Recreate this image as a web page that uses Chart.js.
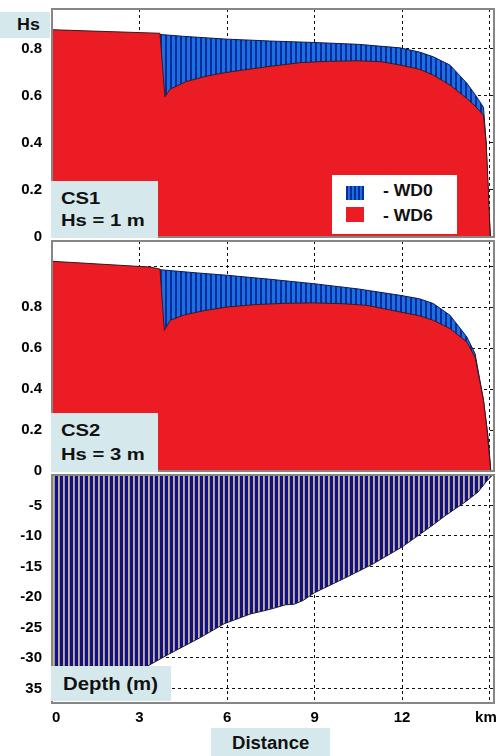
<!DOCTYPE html>
<html>
<head>
<meta charset="utf-8">
<script src="https://cdn.jsdelivr.net/npm/chart.js@4.4.1/dist/chart.umd.min.js"></script>
<style>
  body { margin: 0; background: #fff; }
  #wrap { position: relative; width: 496px; height: 756px; overflow: hidden;
          font-family: "Liberation Sans", Arial, sans-serif; font-weight: bold; color: #111; }
  canvas { position: absolute; left: 0; }
  .tag { position: absolute; background: #d5e9ec; }
  .line { position: absolute; white-space: nowrap; transform-origin: left center; }
  .legend { position: absolute; background: #fff; }
  .sw { position: absolute; }
</style>
</head>
<body>
<div id="wrap">
  <canvas id="c1" width="496" height="250" style="top:0px"></canvas>
  <canvas id="c2" width="496" height="255" style="top:230px"></canvas>
  <canvas id="c3" width="510" height="267" style="top:460px"></canvas>

  <div class="tag" style="left:0;top:12px;width:50px;height:26px">
    <div class="line" style="left:17px;top:2px;height:22px;line-height:22px;font-size:17px;transform:scaleX(1.05)">Hs</div>
  </div>

  <div class="tag" style="left:51px;top:181px;width:107px;height:57px">
    <div class="line" style="left:10px;top:7px;height:22px;line-height:22px;font-size:17px;transform:scaleX(1.19)">CS1</div>
    <div class="line" style="left:10px;top:29px;height:22px;line-height:22px;font-size:17px;transform:scaleX(1.19)">Hs = 1 m</div>
  </div>

  <div class="legend" style="left:332px;top:175px;width:125px;height:59px">
    <div class="sw" style="left:14px;top:11px;width:18px;height:14px;background:repeating-linear-gradient(90deg,#0b2c94 0 2px,#1a6fe6 2px 4px)"></div>
    <div class="sw" style="left:14px;top:32px;width:18px;height:15px;background:#ec1c24"></div>
    <div class="line" style="left:51px;top:5px;height:22px;line-height:22px;font-size:16px;transform:scaleX(1.1)">- WD0</div>
    <div class="line" style="left:51px;top:30px;height:22px;line-height:22px;font-size:16px;transform:scaleX(1.1)">- WD6</div>
  </div>

  <div class="tag" style="left:51px;top:413px;width:107px;height:59px">
    <div class="line" style="left:10px;top:7px;height:22px;line-height:22px;font-size:17px;transform:scaleX(1.19)">CS2</div>
    <div class="line" style="left:10px;top:31px;height:22px;line-height:22px;font-size:17px;transform:scaleX(1.19)">Hs = 3 m</div>
  </div>

  <div class="tag" style="left:51px;top:666px;width:120px;height:35px">
    <div class="line" style="left:12px;top:7px;height:22px;line-height:22px;font-size:18px;transform:scaleX(1.13)">Depth (m)</div>
  </div>

  <div class="tag" style="left:211px;top:728px;width:119px;height:28px">
    <div class="line" style="left:21px;top:4px;height:22px;line-height:22px;font-size:18px;transform:scaleX(1.03)">Distance</div>
  </div>
</div>

<script>
// Axis ticks
const distTicks  = [0, 3, 6, 9, 12, 15];
const distLabels = ['\u00a0\u00a00', '3', '6', '9', '12', 'km\u2002'];
const hsTicks1   = [0, 0.2, 0.4, 0.6, 0.8];
const hsLabels1  = ['0', '0.2', '0.4', '0.6', '0.8'];
const hsTicks2   = [0, 0.2, 0.4, 0.6, 0.8, 1.0];
const hsLabels2  = ['0', '0.2', '0.4', '0.6', '0.8', ''];
const depthTicks  = [0, -5, -10, -15, -20, -25, -30, -35];
const depthLabels = ['', '-5', '-10', '-15', '-20', '-25', '-30', '35'];

// CS1 (Hs = 1 m): wave height along the transect
const cs1Wd0Km = [0, 3.70, 4.5, 6.0, 7.5, 8.95, 10.5, 11.93, 12.6, 13.07, 13.64, 14.22, 14.5, 14.79, 14.88, 14.96, 15.03];
const cs1Wd0Hs = [0.878, 0.860, 0.852, 0.840, 0.832, 0.826, 0.818, 0.803, 0.785, 0.765, 0.730, 0.653, 0.605, 0.551, 0.40, 0.15, 0];
const cs1Wd6Km = [0, 3.70, 3.87, 4.05, 4.6, 5.2, 5.8, 6.5, 7.5, 8.5, 9.5, 10.5, 11.3, 11.93, 12.6, 13.07, 13.64, 14.22, 14.5, 14.79, 14.88, 14.95, 15.02];
const cs1Wd6Hs = [0.880, 0.865, 0.595, 0.628, 0.660, 0.680, 0.695, 0.708, 0.725, 0.740, 0.746, 0.748, 0.744, 0.730, 0.712, 0.687, 0.645, 0.588, 0.556, 0.517, 0.40, 0.22, 0];

// CS2 (Hs = 3 m)
const cs2Wd0Km = [0, 3.70, 5.0, 5.99, 7.5, 8.95, 10.5, 11.93, 12.6, 13.07, 13.64, 14.22, 14.5, 14.79, 14.96, 15.04];
const cs2Wd0Hs = [1.020, 0.982, 0.966, 0.955, 0.935, 0.914, 0.888, 0.857, 0.840, 0.817, 0.760, 0.654, 0.573, 0.345, 0.15, 0];
const cs2Wd6Km = [0, 3.36, 3.70, 3.85, 4.05, 4.5, 5.2, 6.0, 7.0, 8.0, 8.95, 10.0, 10.79, 11.93, 12.6, 13.07, 13.64, 14.22, 14.5, 14.79, 14.9, 15.04];
const cs2Wd6Hs = [1.023, 0.995, 0.985, 0.686, 0.735, 0.760, 0.782, 0.800, 0.812, 0.818, 0.820, 0.816, 0.808, 0.776, 0.757, 0.735, 0.695, 0.629, 0.556, 0.345, 0.215, 0];

// Bed profile
const depthKm = [0, 3.25, 4.0, 5.07, 5.9, 6.8, 7.5, 8.0, 8.3, 8.6, 9.0, 10.0, 11.0, 12.0, 13.0, 13.5, 14.2, 14.6, 14.9, 15.1];
const depthM  = [-31.4, -31.4, -29.4, -26.7, -24.4, -22.8, -22.0, -21.3, -21.2, -20.6, -19.3, -17.0, -14.6, -11.8, -8.4, -6.6, -4.3, -2.8, -1.0, 0];

const pts = (xs, ys) => xs.map((x, i) => ({ x, y: ys[i] }));

function stripes(colors) {
  const c = document.createElement('canvas');
  c.width = colors.length; c.height = 4;
  const g = c.getContext('2d');
  colors.forEach((col, i) => { g.fillStyle = col; g.fillRect(i, 0, 1, 4); });
  return g.createPattern(c, 'repeat');
}
const blueFill  = stripes(['#0b2c94', '#0b2c94', '#1a6fe6', '#1a6fe6', '#1a6fe6']);
const depthFill = stripes(['#10108a', '#10108a', '#10108a', '#cdb47e', '#9d98a2']);
const RED = '#ec1c24';

const frame = {
  id: 'frame',
  afterDraw(chart) {
    const { ctx, chartArea: a } = chart;
    ctx.save();
    ctx.strokeStyle = '#868686';
    ctx.lineWidth = 2;
    ctx.strokeRect(a.left, a.top, a.right - a.left, a.bottom - a.top);
    ctx.restore();
  }
};

Chart.defaults.font.family = '"Liberation Sans", Arial, sans-serif';
Chart.defaults.color = '#000';

const tickFont = { size: 15, weight: 'bold' };
const dashGrid = { color: '#111', lineWidth: 1, drawTicks: false };

function xScale(showLabels) {
  return {
    type: 'linear', min: 0, max: 15.15,
    grid: dashGrid,
    border: { display: false, dash: [3, 3] },
    afterBuildTicks: s => { s.ticks = distTicks.map(v => ({ value: v })); },
    afterFit: s => {
      s.height = showLabels ? 24 : 0;
      s.paddingLeft = 0; s.paddingRight = 0;
    },
    ticks: {
      display: showLabels, font: tickFont, padding: 6, maxRotation: 0, autoSkip: false,
      callback: v => distLabels[distTicks.indexOf(v)]
    }
  };
}

function yScale(min, max, vals, labels) {
  return {
    type: 'linear', min, max,
    grid: dashGrid,
    border: { display: false, dash: [3, 3] },
    afterBuildTicks: s => { s.ticks = vals.map(v => ({ value: v })); },
    afterFit: s => {
      s.width = 52;
      s.paddingTop = 0; s.paddingBottom = 0;
    },
    ticks: {
      font: tickFont, padding: 10, autoSkip: false,
      callback: v => labels[vals.indexOf(v)]
    }
  };
}

function panel(id, datasets, y, showX, padding) {
  return new Chart(document.getElementById(id), {
    type: 'line',
    data: { datasets },
    options: {
      responsive: false, animation: false, devicePixelRatio: 1,
      layout: { padding },
      elements: { point: { radius: 0 }, line: { tension: 0 } },
      plugins: { legend: { display: false }, tooltip: { enabled: false } },
      scales: { x: xScale(showX), y }
    },
    plugins: [frame]
  });
}

function waveSets(wd0Km, wd0Hs, wd6Km, wd6Hs) {
  return [
    { label: 'WD6', data: pts(wd6Km, wd6Hs), order: 0, fill: 'origin',
      backgroundColor: RED, borderColor: '#3a1a1a', borderWidth: 1 },
    { label: 'WD0', data: pts(wd0Km, wd0Hs), order: 1, fill: 'origin',
      backgroundColor: blueFill, borderColor: '#0d1a55', borderWidth: 1 }
  ];
}

// Hs panels: plot areas 9–237 and 241–471 on the page
panel('c1', waveSets(cs1Wd0Km, cs1Wd0Hs, cs1Wd6Km, cs1Wd6Hs),
      yScale(0, 0.968, hsTicks1, hsLabels1), false,
      { top: 9, right: 2, bottom: 13, left: 0 });

panel('c2', waveSets(cs2Wd0Km, cs2Wd0Hs, cs2Wd6Km, cs2Wd6Hs),
      yScale(0, 1.122, hsTicks2, hsLabels2), false,
      { top: 11, right: 2, bottom: 14, left: 0 });

// Depth panel: plot area 475–703, distance axis underneath (canvas is wider so the
// last axis label is not cut by the canvas edge)
panel('c3', [
        { label: 'Depth', data: pts(depthKm, depthM), fill: 'origin',
          backgroundColor: depthFill, borderColor: '#1a1a3a', borderWidth: 1 }
      ],
      yScale(-37.4, 0, depthTicks, depthLabels), true,
      { top: 15, right: 16, bottom: 0, left: 0 });
</script>
</body>
</html>
